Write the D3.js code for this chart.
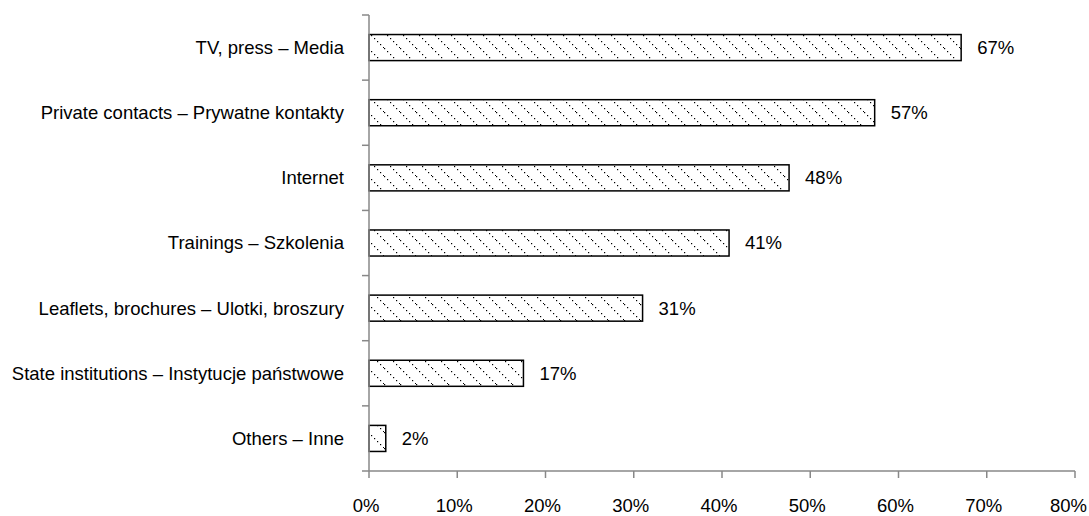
<!DOCTYPE html>
<html><head><meta charset="utf-8">
<script src="https://cdn.jsdelivr.net/npm/d3@7"></script>
<style>body{margin:0;background:#fff}svg{display:block}text{font-family:"Liberation Sans",Arial,sans-serif;font-size:18.5px;fill:#000}</style>
</head><body>
<svg id="c" width="1089" height="516"></svg>
<script>
const categories = ["TV, press – Media","Private contacts – Prywatne kontakty","Internet","Trainings – Szkolenia","Leaflets, brochures – Ulotki, broszury","State institutions – Instytucje państwowe","Others – Inne"];
const values = [67.1, 57.3, 47.6, 40.8, 31.0, 17.5, 1.9];
const valueLabels = ["67%","57%","48%","41%","31%","17%","2%"];
const xTicks = [0,10,20,30,40,50,60,70,80];

(function(){
const svg = d3.select("#c");
const W = 1089;
const mL = 369, mR = 1075, mT = 15, mB = 471;
const x = d3.scaleLinear().domain([0,80]).range([mL,mR]);
const y = d3.scaleBand().domain(categories).range([mT,mB]).paddingInner(0.6).paddingOuter(0.3);

const defs = svg.append("defs");
const pat = defs.append("pattern").attr("id","hatch").attr("patternUnits","userSpaceOnUse")
  .attr("width",16).attr("height",16);
pat.append("rect").attr("width",16).attr("height",16).attr("fill","#fff");
for (let i=0;i<16;i+=3){
  pat.append("rect").attr("x",i).attr("y",i).attr("width",1.2).attr("height",1.2).attr("fill","#000");
}

svg.selectAll("rect.bar").data(values).join("rect").attr("class","bar")
  .attr("x",x(0)).attr("y",(d,i)=>y(categories[i]))
  .attr("width",d=>x(d)-x(0)).attr("height",y.bandwidth())
  .attr("fill","url(#hatch)").attr("stroke","#000").attr("stroke-width",1.5);

svg.selectAll("text.val").data(values).join("text").attr("class","val")
  .attr("x",d=>x(d)+16).attr("y",(d,i)=>y(categories[i])+y.bandwidth()/2)
  .attr("dy","0.35em").text((d,i)=>valueLabels[i]);

const axisCol = "#888";
svg.append("line").attr("x1",mL).attr("x2",mL).attr("y1",mT).attr("y2",mB).attr("stroke",axisCol).attr("stroke-width",1.5);
const bounds = d3.range(categories.length+1).map(i=>mT + i*(mB-mT)/categories.length);
svg.selectAll("line.yt").data(bounds).join("line").attr("class","yt")
  .attr("x1",mL-7).attr("x2",mL).attr("y1",d=>d).attr("y2",d=>d).attr("stroke",axisCol).attr("stroke-width",1.5);
svg.selectAll("text.cat").data(categories).join("text").attr("class","cat")
  .attr("x",344).attr("y",d=>y(d)+y.bandwidth()/2).attr("dy","0.35em").attr("text-anchor","end").text(d=>d);

svg.append("line").attr("x1",mL).attr("x2",mR).attr("y1",mB).attr("y2",mB).attr("stroke",axisCol).attr("stroke-width",1.5);
svg.selectAll("line.xt").data(xTicks).join("line").attr("class","xt")
  .attr("x1",d=>x(d)).attr("x2",d=>x(d)).attr("y1",mB).attr("y2",mB+7).attr("stroke",axisCol).attr("stroke-width",1.5);
svg.selectAll("text.xl").data(xTicks).join("text").attr("class","xl")
  .attr("y",512).attr("text-anchor","middle").text(d=>d+"%")
  .each(function(d){
    const w = this.getComputedTextLength();
    const cx = Math.min(x(d)-3, W-2-w/2);
    d3.select(this).attr("x",cx);
  });
})();
</script>
</body></html>
